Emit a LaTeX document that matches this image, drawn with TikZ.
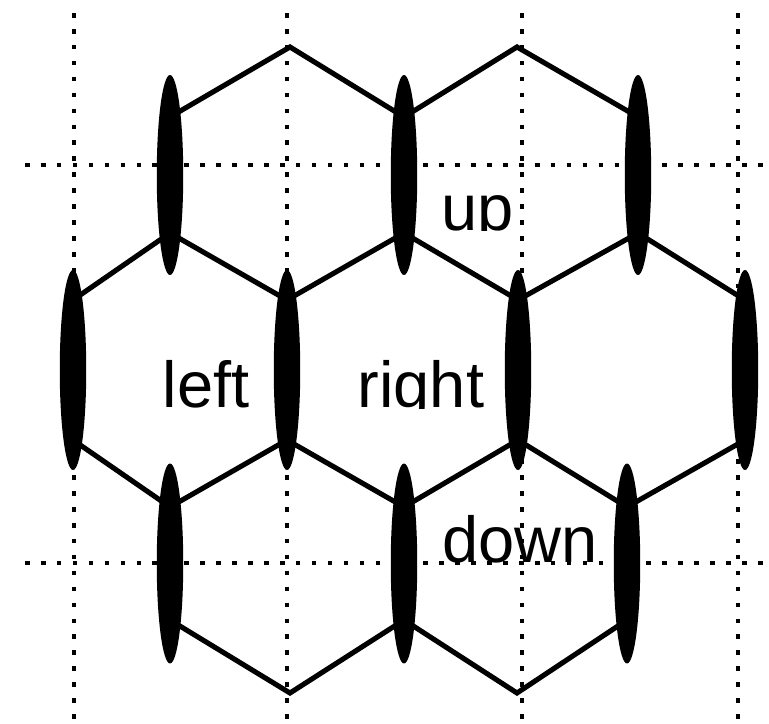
\documentclass[tikz,border=0pt]{standalone}
\usepackage{fontspec}
\setmainfont{Liberation Sans}
\usetikzlibrary{shapes.geometric,calc}

\begin{document}
\begin{tikzpicture}[x=0.02cm, y=-0.02cm, every node/.style={font=\fontsize{37}{40}\selectfont}]
\tikzset{grid/.style={line width=2.6pt, dash pattern=on 2.6pt off 6.47pt}}
\tikzset{bond/.style={line width=2.9pt, line join=miter}}
\tikzset{spot/.style={draw=none, fill=black, ellipse, minimum width=0.53cm, minimum height=4cm, inner sep=0pt}}
\tikzset{lbl/.style={anchor=base, inner sep=0pt}}
\useasboundingbox (0,0) rectangle (769,724);
% dotted grid
\foreach \x in {74,287,522,738} \draw[grid] (\x,13) -- (\x,724);
\foreach \y in {165,563} \draw[grid] (25,\y) -- (769,\y);
% lattice sites
\coordinate (t1) at (290,47);
\coordinate (t2) at (517,47);
\foreach \n/\x in {0/170,1/404,2/638} {\coordinate (ua\n) at (\x,117); \coordinate (ub\n) at (\x,233);}
\foreach \n/\x in {0/73,1/287,2/518,3/745} {\coordinate (ma\n) at (\x,300); \coordinate (mb\n) at (\x,440);}
\foreach \n/\x in {0/170,1/404,2/627} {\coordinate (la\n) at (\x,507); \coordinate (lb\n) at (\x,620);}
\coordinate (d1) at (290,693);
\coordinate (d2) at (517,693);
% bonds
\draw[bond] (ua0) -- (t1) -- (ua1) -- (t2) -- (ua2);
\draw[bond] (ma0) -- (ub0) -- (ma1) -- (ub1) -- (ma2) -- (ub2) -- (ma3);
\draw[bond] (mb0) -- (la0) -- (mb1) -- (la1) -- (mb2) -- (la2) -- (mb3);
\draw[bond] (lb0) -- (d1) -- (lb1) -- (d2) -- (lb2);
\foreach \n in {0,1,2} {\draw[bond] (ua\n) -- (ub\n); \draw[bond] (la\n) -- (lb\n);}
\foreach \n in {0,...,3} \draw[bond] (ma\n) -- (mb\n);
% vertical links
\foreach \n in {0,1,2} {
  \node[spot] (eu\n) at ($(ua\n)!0.5!(ub\n)$) {};
  \node[spot] (el\n) at ($(la\n)!0.5!(lb\n)$) {};
}
\foreach \n in {0,...,3} \node[spot] (em\n) at ($(ma\n)!0.5!(mb\n)$) {};
% labels
\begin{scope}
\clip (0,0) rectangle (769,230);
\node[lbl] (lup) at (478,230) {up};
\end{scope}
\begin{scope}
\clip (0,0) rectangle (769,408);
\node[lbl] (lleft) at (206,407) {left};
\node[lbl] (lright) at (421,407) {right};
\end{scope}
\node[lbl] (ldown) at (520,562) {down};
\end{tikzpicture}
\end{document}
